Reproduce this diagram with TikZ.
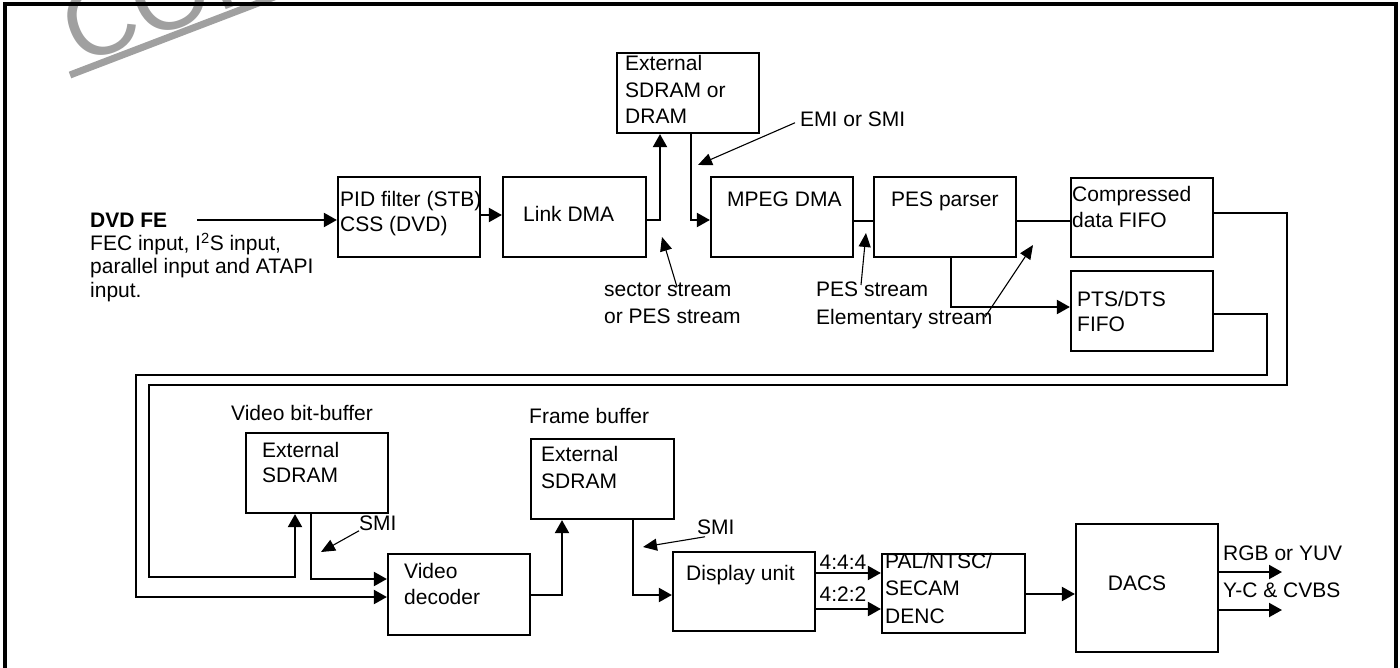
\documentclass[tikz,border=0pt]{standalone}
\usepackage{fontspec}
\setmainfont{Liberation Sans}
\usetikzlibrary{arrows.meta}
\definecolor{wm}{RGB}{160,160,160}
\newcommand{\fs}[1]{\fontsize{21pt}{#1pt}\selectfont}
\newcommand{\ublk}[5]{\node[blk, minimum width={#4-#2}, minimum height={#5-#3}] (#1) at ({(#2+#4)/2},{(#3+#5)/2}) {};}
\begin{document}
\begin{tikzpicture}[x=1pt,y=-1pt,
 blk/.style={draw, line width=2.2pt, inner sep=0pt},
 tx/.style={inner sep=0pt, anchor=base west, font=\fs{26}},
 txc/.style={inner sep=0pt, anchor=base, font=\fs{26}},
 txm/.style={inner sep=0pt, anchor=north west, align=left, execute at begin node=\strut},
 conn/.style={line width=2pt},
 arr/.style={conn, -{Triangle[length=13pt,width=14pt]}},
 ann/.style={line width=1.1pt, -{Triangle[length=14pt,width=12pt]}},
 wmark/.style={anchor=base west, inner sep=0pt, rotate=20.8, text=wm, font=\fontsize{100pt}{120pt}\selectfont},
]
\useasboundingbox (0,0) rectangle (1400,668);
\begin{scope}
\clip (0,0) rectangle (1400,668);
\node[wmark] (wmtext) at (78,66) {CONFIDENTIAL};
\draw[wm, line width=7pt] (70,75) -- (350,-32);
\draw[line width=3.5pt] (5,672) -- (5,4) -- (1396,4) -- (1396,672);
\end{scope}

% boxes
\ublk{pid}{338}{177}{480}{257}
\ublk{link}{503}{177}{646}{257}
\ublk{extA}{617}{53}{759}{133}
\ublk{mpeg}{711}{177}{853}{257}
\ublk{pes}{874}{177}{1016}{257}
\ublk{cfifo}{1071}{178}{1213}{257}
\ublk{pts}{1071}{271}{1213}{351}
\ublk{extV}{246}{433}{388}{513}
\ublk{vdec}{388}{554}{530}{635}
\ublk{extF}{531}{439}{674}{519}
\ublk{disp}{673}{552}{815}{631}
\ublk{pal}{882}{554}{1025}{633}
\ublk{dacs}{1076}{524}{1218}{652}

% texts
\node[txm, font=\fs{23.3}] (dvd) at (90,212.7) {{\bfseries DVD FE}\\FEC input, I\textsuperscript{2}S input,\\parallel input and ATAPI\\input.};
\node[txm, font=\fs{25}] (tpid) at (340,191.5) {PID filter (STB)\\CSS (DVD)};
\node[tx] (tlink) at (523,222) {Link DMA};
\node[txm, font=\fs{26.5}] (textA) at (625,55.45) {External\\SDRAM or\\DRAM};
\node[tx] (emi) at (800,127) {EMI or SMI};
\node[tx] (tmpeg) at (727,207) {MPEG DMA};
\node[txm, font=\fs{27}] (sector) at (604,283.1) {sector stream\\or PES stream};
\node[tx] (tpes) at (891,207) {PES parser};
\node[txm, font=\fs{28}] (pesst) at (816,281.4) {PES stream\\Elementary stream};
\node[txm, font=\fs{26}] (tcfifo) at (1072,185.8) {Compressed\\data FIFO};
\node[txm, font=\fs{25}] (tpts) at (1077,291.5) {PTS/DTS\\FIFO};
\node[tx] (vbb) at (231,420) {Video bit-buffer};
\node[txm, font=\fs{25}] (textV) at (262,442.5) {External\\SDRAM};
\node[tx] (smiA) at (359,530) {SMI};
\node[txm, font=\fs{26}] (tvdec) at (404,562.8) {Video\\decoder};
\node[tx] (fbuf) at (529,423) {Frame buffer};
\node[txm, font=\fs{27}] (textF) at (541,446.1) {External\\SDRAM};
\node[tx] (smiB) at (697,534) {SMI};
\node[tx] (tdisp) at (686,580) {Display unit};
\node[txc] (f444) at (843,569) {4:4:4};
\node[txc] (f422) at (843,601) {4:2:2};
\node[txm, font=\fs{27.5}] (tpal) at (885,552.75) {PAL/NTSC/\\SECAM\\DENC};
\node[txc] (tdacs) at (1137,590) {DACS};
\node[tx] (rgb) at (1223,560) {RGB or YUV};
\node[tx] (yc) at (1223,597) {Y-C \& CVBS};

% coordinates
\coordinate (dvdS) at (197,220);
\coordinate (c1) at (1287,385);
\coordinate (c2) at (149,577);
\coordinate (c3) at (1267,375);
\coordinate (c4) at (136,597);
\coordinate (rgbEnd) at (1282,572);
\coordinate (ycEnd) at (1282,610);

% connectors
\draw[arr] (dvdS) -- (dvdS -| pid.west);
\draw[arr] ([yshift=2pt]pid.east) -- ([yshift=2pt]link.west);
\draw[arr] ([yshift=-3pt]link.east) -| ([xshift=-28pt]extA.south);
\draw[arr] ([xshift=3pt]extA.south) |- ([yshift=-3pt]mpeg.west);
\draw[conn] ([yshift=-4pt]mpeg.east) -- ([yshift=-4pt]pes.west);
\draw[conn] ([yshift=-4pt]pes.east) -- ([yshift=-3.5pt]cfifo.west);
\draw[arr] ([xshift=6pt]pes.south) |- ([yshift=4pt]pts.west);
\draw[arr] ([yshift=4.5pt]cfifo.east) -| (c1) -| (c2) -| ([xshift=-22pt]extV.south);
\draw[arr] ([yshift=-3pt]pts.east) -| (c3) -| (c4) -- ([yshift=-2.5pt]vdec.west);
\draw[arr] ([xshift=-6pt]extV.south) |- ([yshift=15.5pt]vdec.west);
\draw[arr] (vdec.east) -| ([xshift=-40.5pt]extF.south);
\draw[arr] ([xshift=30.5pt]extF.south) |- ([yshift=-3.5pt]disp.west);
\draw[arr] ([yshift=18.5pt]disp.east) -- ([yshift=20.5pt]pal.west);
\draw[arr] ([yshift=-17.5pt]disp.east) -- ([yshift=-15.5pt]pal.west);
\draw[arr] ([yshift=-0.5pt]pal.east) -- ([yshift=-6pt]dacs.west);
\draw[arr] ([yshift=16pt]dacs.east) -- (rgbEnd);
\draw[arr] ([yshift=-22pt]dacs.east) -- (ycEnd);

% annotation leaders
\coordinate (emiT) at (698,165);
\coordinate (secS) at (677,287);
\coordinate (secT) at (662,237);
\coordinate (pesS) at (861,285);
\coordinate (pesT) at (866,233);
\coordinate (eleS) at (985,317);
\coordinate (eleT) at (1033,245);
\coordinate (smiAT) at (321,552);
\coordinate (smiBT) at (643,547);
\draw[ann] ([shift={(-5pt,-3pt)}]emi.west) -- (emiT);
\draw[ann] (secS) -- (secT);
\draw[ann] (pesS) -- (pesT);
\draw[ann] (eleS) -- (eleT);
\draw[ann] ([shift={(0pt,-8pt)}]smiA.west) -- (smiAT);
\draw[ann] ([shift={(8pt,-10pt)}]smiB.west) -- (smiBT);
\end{tikzpicture}
\end{document}
